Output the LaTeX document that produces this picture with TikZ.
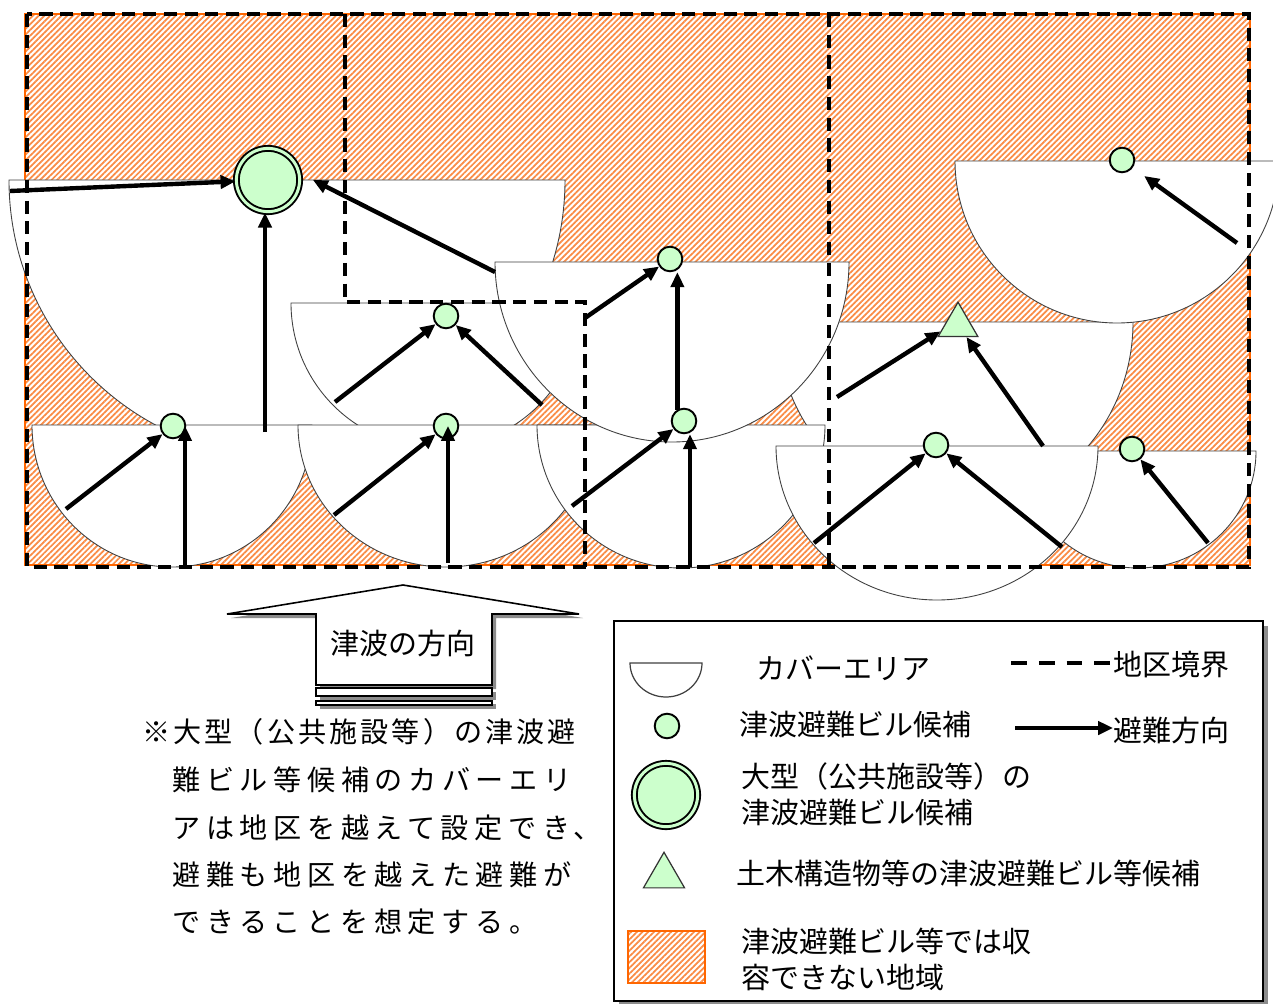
\documentclass[tikz,border=0pt]{standalone}
\usepackage{fontspec}
\setmainfont{Noto Sans CJK JP}
\newfontfamily\notefont[LetterSpace=20]{Noto Sans CJK JP}
\newfontfamily\notefonta[LetterSpace=11]{Noto Sans CJK JP}
\usetikzlibrary{patterns.meta,arrows.meta,shapes.geometric}
\definecolor{hatch}{RGB}{250,140,70}
\definecolor{borderor}{RGB}{255,102,0}
\definecolor{lgreen}{RGB}{204,255,204}
\tikzset{
 cover/.style={fill=white,draw=black!75,line width=0.5pt},
 hatched/.style={pattern={Lines[angle=45,distance=2.3pt,line width=1.0pt]},pattern color=hatch},
 boundary/.style={line width=2.8pt,dash pattern=on 7.5pt off 4.3pt},
 lboundary/.style={line width=2.2pt,dash pattern=on 9pt off 6.8pt},
 evac/.style={line width=2.5pt,-{Triangle[length=8.5pt,width=7.5pt]}},
 bldg/.style={circle,draw,line width=1.1pt,fill=lgreen,minimum size=14pt,inner sep=0pt},
 bigbldg/.style={circle,draw,line width=1.1pt,double=lgreen,double distance=1.7pt,fill=lgreen,minimum size=36pt,inner sep=0pt},
 civil/.style={regular polygon,regular polygon sides=3,draw=black!80,line width=0.7pt,fill=lgreen,minimum size=26pt,inner sep=0pt},
 lbl/.style={inner sep=0pt,anchor=west,font=\fontsize{16.5pt}{20.5pt}\selectfont,align=left},
 note/.style={inner sep=0pt,anchor=west,font=\notefont\fontsize{16pt}{20pt}\selectfont},
 shadow/.style={fill=black!45,draw=none},
}
\begin{document}
\begin{tikzpicture}[x=0.02cm,y=-0.02cm]
\useasboundingbox (0,0) rectangle (1273,1003);
\fill[white] (0,0) rectangle (1273,1003);
% hatched area
\path[hatched] (25,14) rectangle (1250,565);
\draw[borderor,line width=1.2pt] (25,14) rectangle (1250,565);
% cover areas
\path[cover] (9,180) arc[start angle=180,end angle=0,radius=278] -- cycle;        % A
\path[cover] (291,303) arc[start angle=180,end angle=0,radius=145] -- cycle;      % B
\path[cover] (777,322) arc[start angle=180,end angle=0,x radius=178,y radius=187] -- cycle; % F
\path[cover] (32,425) arc[start angle=180,end angle=0,x radius=140,y radius=142] -- cycle;  % D1
\path[cover] (298,425) arc[start angle=180,end angle=0,x radius=148,y radius=142] -- cycle; % D2
\path[cover] (537,425) arc[start angle=180,end angle=0,x radius=144,y radius=143] -- cycle; % D3
\path[cover] (495,262) arc[start angle=180,end angle=0,x radius=177,y radius=180] -- cycle; % C
\path[cover] (955,161) arc[start angle=180,end angle=0,radius=162] -- cycle;      % E
\path[cover] (1020,451) arc[start angle=180,end angle=0,x radius=118,y radius=117] -- cycle; % H
\path[cover] (776,446) arc[start angle=180,end angle=0,x radius=161,y radius=154] -- cycle; % G
% district boundaries
\draw[boundary] (27,14) rectangle (1249,567);
\draw[boundary] (345,14) -- (345,302) -- (585,302) -- (585,567);
\draw[boundary] (829,14) -- (829,567);
% buildings
\node[bigbldg] (big) at (268,180) {};
\node[bldg] (c1) at (173,426) {};
\node[bldg] (c2) at (446,426) {};
\node[bldg] (cB) at (446,316) {};
\node[bldg] (cC) at (670,259) {};
\node[bldg] (c3) at (684,421) {};
\node[civil] (tri) at (958,325) {};
\node[bldg] (cG) at (936,445) {};
\node[bldg] (cH) at (1132,449) {};
\node[bldg] (cE) at (1122,160) {};
% evacuation arrows
\coordinate (a1) at (10,191);
\coordinate (a2) at (265,432);
\coordinate (a3) at (495,272);
\coordinate (a4) at (66,509);
\coordinate (a5) at (185,567);
\coordinate (a6) at (334,515);
\coordinate (a7) at (448,563);
\coordinate (a8) at (335,402);
\coordinate (a9) at (542,405);
\coordinate (a10) at (585,318);
\coordinate (a12) at (572,506);
\coordinate (a13) at (690,567);
\coordinate (a14) at (837,397);
\coordinate (a15) at (1043,446);
\coordinate (a16) at (814,543);
\coordinate (a17) at (1062,547);
\coordinate (a18) at (1208,543);
\coordinate (a19) at (1237,243);
\draw[evac] (a1) -- (big);
\draw[evac] (a2) -- (a2 |- big.south);
\draw[evac] (a3) -- ([xshift=7pt]big.east);
\draw[evac] (a4) -- (c1);
\draw[evac] (a5) -- (a5 |- c1);
\draw[evac] (a6) -- (c2);
\draw[evac] (a7) -- (a7 |- c2);
\draw[evac] (a8) -- (cB);
\draw[evac] (a9) -- (cB);
\draw[evac] (a10) -- (cC);
\draw[evac] (c3.120) -- (c3.120 |- cC.south);
\draw[evac] (a12) -- (c3);
\draw[evac] (a13) -- (a13 |- c3.south);
\draw[evac] (a14) -- (tri.200);
\draw[evac] (a15) -- (tri);
\draw[evac] (a16) -- (cG);
\draw[evac] (a17) -- (cG);
\draw[evac] (a18) -- (cH);
\draw[evac,shorten >=8pt] (a19) -- (cE);
% tsunami direction arrow
\fill[shadow,shift={(4,4)}] (316,685) -- (316,614) -- (227,614) -- (403,585) -- (579,614) -- (492,614) -- (492,685) -- cycle;
\draw[fill=white,line width=0.9pt] (316,685) -- (316,614) -- (227,614) -- (403,585) -- (579,614) -- (492,614) -- (492,685) -- cycle;
\node[font=\fontsize{16.5pt}{20pt}\selectfont,inner sep=0pt] (tsu) at (403,643) {津波の方向};
\fill[shadow] (320,692) rectangle (496,700);
\draw[fill=white,line width=0.8pt] (316,688) rectangle (492,696);
\fill[shadow] (320,704) rectangle (496,709);
\draw[fill=white,line width=0.8pt] (316,701) rectangle (492,705);
% note
\node[inner sep=0pt,anchor=west,font=\notefonta\fontsize{16pt}{20pt}\selectfont] (n1) at (142,732) {※大型（公共施設等）の津波避};
\node[note] (n2) at (172,780) {難ビル等候補のカバーエリ};
\node[note] (n3) at (172,828) {アは地区を越えて設定でき、};
\node[note] (n4) at (172,875) {避難も地区を越えた避難が};
\node[note] (n5) at (172,922) {できることを想定する。};
% legend
\fill[shadow] (619,626) rectangle (1268,1008);
\draw[fill=white,line width=1pt] (614,621) rectangle (1263,1001);
\path[cover,line width=0.7pt] (630,663) arc[start angle=180,end angle=0,x radius=36,y radius=34] -- cycle;
\node[lbl] (lt1) at (756,668) {カバーエリア};
\coordinate (ld) at (1011,663);
\node[lbl] (lt2) at (1113,665) {地区境界};
\draw[lboundary] (ld) -- (ld -| lt2.west);
\node[bldg] (lc) at (667,726) {};
\node[lbl] (lt3) at (739,725) {津波避難ビル候補};
\coordinate (la) at (1015,728);
\node[lbl] (lt4) at (1113,730) {避難方向};
\draw[evac] (la) -- (la -| lt4.west);
\node[bigbldg] (lbig) at (666,795) {};
\node[lbl] (lt5) at (741,794) {大型（公共施設等）の\\津波避難ビル候補};
\node[civil,minimum size=27pt] (ltri) at (664,876) {};
\node[lbl] (lt6) at (736,873) {土木構造物等の津波避難ビル等候補};
\path[hatched] (628,931) rectangle (705,983);
\draw[borderor,line width=1.2pt] (628,931) rectangle (705,983);
\node[lbl] (lt7) at (741,959) {津波避難ビル等では収\\容できない地域};
\end{tikzpicture}
\end{document}
